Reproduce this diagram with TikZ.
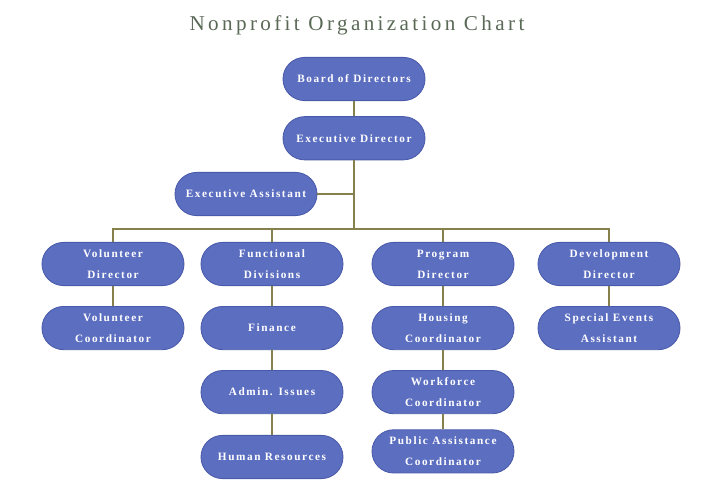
\documentclass[tikz,border=0pt]{standalone}
\usepackage{fontspec}
\setmainfont{Liberation Serif}
\newfontfamily\chartfont[LetterSpace=14]{Liberation Serif}
\newfontfamily\titlefont[LetterSpace=16]{Liberation Serif}
\definecolor{boxblue}{RGB}{92, 110, 192}
\definecolor{boxedge}{RGB}{74, 90, 170}
\definecolor{linkolive}{RGB}{134, 128, 76}
\definecolor{titlegray}{RGB}{90, 104, 86}
\usetikzlibrary{positioning}

\begin{document}
\begin{tikzpicture}[
        x=0.025cm, y=-0.025cm,
        unit/.style={draw=boxedge, fill=boxblue, line width=0.6pt, minimum width=3.55cm,
                     minimum height=1.08cm, rounded corners=0.54cm, align=center, text=white,
                     font=\chartfont\bfseries\fontsize{8}{15}\selectfont},
        link/.style={linkolive, line width=1.4pt}
      ]
        \useasboundingbox (0,0) rectangle (720,480);
        \node[font=\titlefont\fontsize{15}{17}\selectfont, text=titlegray] (title) at (357,25) {Nonprofit Organization Chart};

        % top of the chart
        \node[unit] (board) at (354,79) {Board of Directors};
        \node[unit, below=0.38cm of board] (exec) {Executive Director};
        \node[unit] (assist) at (246,194) {Executive Assistant};
        \coordinate (bus) at (354,229);

        % departments
        \node[unit] (vdir) at (113,264) {Volunteer\\Director};
        \node[unit] (fdiv) at (272,264) {Functional\\Divisions};
        \node[unit] (pdir) at (443,264) {Program\\Director};
        \node[unit] (ddir) at (609,264) {Development\\Director};

        \node[unit, below=0.5cm of vdir] (vcoord) {Volunteer\\Coordinator};
        \node[unit, below=0.5cm of fdiv] (finance) {Finance};
        \node[unit, below=0.5cm of finance] (admin) {Admin. Issues};
        \node[unit, below=0.52cm of admin] (hr) {Human Resources};
        \node[unit, below=0.5cm of pdir] (housing) {Housing\\Coordinator};
        \node[unit, below=0.5cm of housing] (workforce) {Workforce\\Coordinator};
        \node[unit, below=0.38cm of workforce] (pubassist) {Public Assistance\\Coordinator};
        \node[unit, below=0.5cm of ddir] (events) {Special Events\\Assistant};

        \draw[link] (board) -- (exec);
        \draw[link] (exec) -- (bus);
        \draw[link] (assist.east) -- (assist.east -| exec);
        \draw[link] (vdir.north) |- (bus) -| (ddir.north);
        \draw[link] (fdiv.north) -- (fdiv.north |- bus);
        \draw[link] (pdir.north) -- (pdir.north |- bus);
        \draw[link] (vdir) -- (vcoord);
        \draw[link] (fdiv) -- (finance);
        \draw[link] (finance) -- (admin);
        \draw[link] (admin) -- (hr);
        \draw[link] (pdir) -- (housing);
        \draw[link] (housing) -- (workforce);
        \draw[link] (workforce) -- (pubassist);
        \draw[link] (ddir) -- (events);
      \end{tikzpicture}
\end{document}
